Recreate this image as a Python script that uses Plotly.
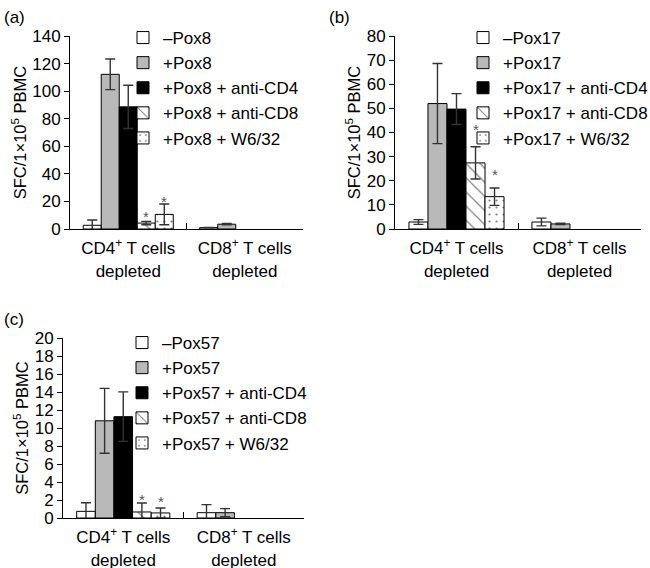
import plotly.graph_objects as go

# ---------------- data ----------------
categories = ["CD4<sup>+</sup> T cells<br>depleted", "CD8<sup>+</sup> T cells<br>depleted"]

a_names = ["–Pox8", "+Pox8", "+Pox8 + anti-CD4", "+Pox8 + anti-CD8", "+Pox8 + W6/32"]
a_cd4 = [2.7, 112.2, 88.6, 4.3, 10.6]
a_cd4_err = [3.8, 11.1, 15.7, 1.2, 7.5]
a_cd8 = [1.0, 3.5, None, None, None]
a_cd8_err = [0.2, 0.5, None, None, None]

b_names = ["–Pox17", "+Pox17", "+Pox17 + anti-CD4", "+Pox17 + anti-CD8", "+Pox17 + W6/32"]
b_cd4 = [2.9, 52.0, 49.7, 27.4, 13.4]
b_cd4_err = [1.0, 16.6, 6.4, 6.7, 3.6]
b_cd8 = [2.9, 2.1, None, None, None]
b_cd8_err = [1.6, 0.3, None, None, None]

c_names = ["–Pox57", "+Pox57", "+Pox57 + anti-CD4", "+Pox57 + anti-CD8", "+Pox57 + W6/32"]
c_cd4 = [0.74, 10.8, 11.26, 0.67, 0.56]
c_cd4_err = [0.95, 3.6, 2.75, 1.0, 0.55]
c_cd8 = [0.59, 0.59, None, None, None]
c_cd8_err = [0.9, 0.45, None, None, None]

significant = [False, False, False, True, True]  # asterisks on CD4-depleted group

y_max = [140, 80, 20]
y_dtick = [20, 10, 2]
panel_labels = ["(a)", "(b)", "(c)"]
y_title = "SFC/1×10<sup>5</sup> PBMC"

# ---------------- styling ----------------
W, H = 650, 568
FONT = "Liberation Sans, Arial, sans-serif"
fills = ["white", "#b9b9b9", "black", "white", "white"]
patterns = [None, None, None,
            dict(shape="\\", fgcolor="black", bgcolor="white", size=10, solidity=0.12),
            dict(shape=".", fgcolor="black", bgcolor="white", size=7, solidity=0.08)]
BARGAP = 0.227
star_shift = [[8, 6], [20, 16], [6, 10]]  # px above error-bar top (hatched, dotted)


def px_x(x):
    return x / W


def px_y(y):
    return 1 - y / H


# panel geometry in pixels: (x0, x1, ytop, ybottom)
geom = [(70, 303, 36, 229), (395, 641, 36, 229), (63, 304, 338, 518)]
legend_pos = [(123, 20), (463, 20), (122, 325)]
label_pos = [(2, 6), (327, 6), (2, 308)]

fig = go.Figure()

panels = [
    (a_names, a_cd4, a_cd4_err, a_cd8, a_cd8_err),
    (b_names, b_cd4, b_cd4_err, b_cd8, b_cd8_err),
    (c_names, c_cd4, c_cd4_err, c_cd8, c_cd8_err),
]

annotations = []
for p, (names, cd4, cd4e, cd8, cd8e) in enumerate(panels):
    xa = "x" if p == 0 else f"x{p+1}"
    ya = "y" if p == 0 else f"y{p+1}"
    leg = "legend" if p == 0 else f"legend{p+1}"
    for k in range(5):
        marker = dict(color=fills[k], line=dict(color="black", width=1))
        if patterns[k] is not None:
            marker["pattern"] = patterns[k]
        fig.add_trace(go.Bar(
            x=categories,
            y=[cd4[k], cd8[k]],
            name=names[k],
            marker=marker,
            error_y=dict(type="data", array=[cd4e[k], cd8e[k]], symmetric=True,
                         color="#333333", thickness=1.4, width=5),
            xaxis=xa, yaxis=ya, legend=leg, legendgroup=f"g{p}_{k}",
        ))
        if significant[k]:
            w = (1 - BARGAP) / 5
            off = -(1 - BARGAP) / 2 + w * (k + 0.5)
            annotations.append(dict(
                x=0 + off, y=cd4[k] + cd4e[k], xref=xa, yref=ya,
                text="*", showarrow=False, yanchor="middle",
                yshift=star_shift[p][k - 3] - 3,
                font=dict(size=15, color="#555555", family=FONT)))

layout = dict(
    width=W, height=H,
    margin=dict(l=0, r=0, t=0, b=0, autoexpand=False),
    paper_bgcolor="white", plot_bgcolor="white",
    barmode="group", bargap=BARGAP, bargroupgap=0,
    font=dict(family=FONT, size=17, color="black"),
    showlegend=True,
)

for p in range(3):
    x0, x1, yt, yb = geom[p]
    sfx = "" if p == 0 else str(p + 1)
    layout[f"xaxis{sfx}"] = dict(
        domain=[px_x(x0), px_x(x1)], anchor=f"y{sfx}",
        showline=True, linecolor="black", linewidth=1,
        ticks="inside", tickson="boundaries", ticklen=6, tickcolor="black",
        showgrid=False, zeroline=False, tickfont=dict(size=17),
        type="category", automargin=False, ticklabelstandoff=4,
    )
    layout[f"yaxis{sfx}"] = dict(
        domain=[px_y(yb), px_y(yt)], anchor=f"x{sfx}",
        range=[0, y_max[p]], dtick=y_dtick[p], tick0=0,
        showline=True, linecolor="black", linewidth=1,
        ticks="outside", ticklen=5, tickcolor="black",
        showgrid=False, zeroline=False, tickfont=dict(size=17),
        title=dict(text=y_title, font=dict(size=16.5), standoff=1),
        automargin=False,
    )
    lx, ly = legend_pos[p]
    layout["legend" if p == 0 else f"legend{p+1}"] = dict(
        x=px_x(lx), y=px_y(ly), xanchor="left", yanchor="top",
        xref="paper", yref="paper",
        bgcolor="rgba(0,0,0,0)", borderwidth=0,
        font=dict(size=17), tracegroupgap=0, itemclick=False,
    )
    tx, ty = label_pos[p]
    annotations.append(dict(
        x=px_x(tx), y=px_y(ty), xref="paper", yref="paper",
        xanchor="left", yanchor="top", text=panel_labels[p],
        showarrow=False, font=dict(size=17)))

layout["annotations"] = annotations
fig.update_layout(**layout)

fig.write_html("out.html",
               config={"displayModeBar": False},
               post_script="document.body.style.margin='0';document.body.style.padding='0';")
